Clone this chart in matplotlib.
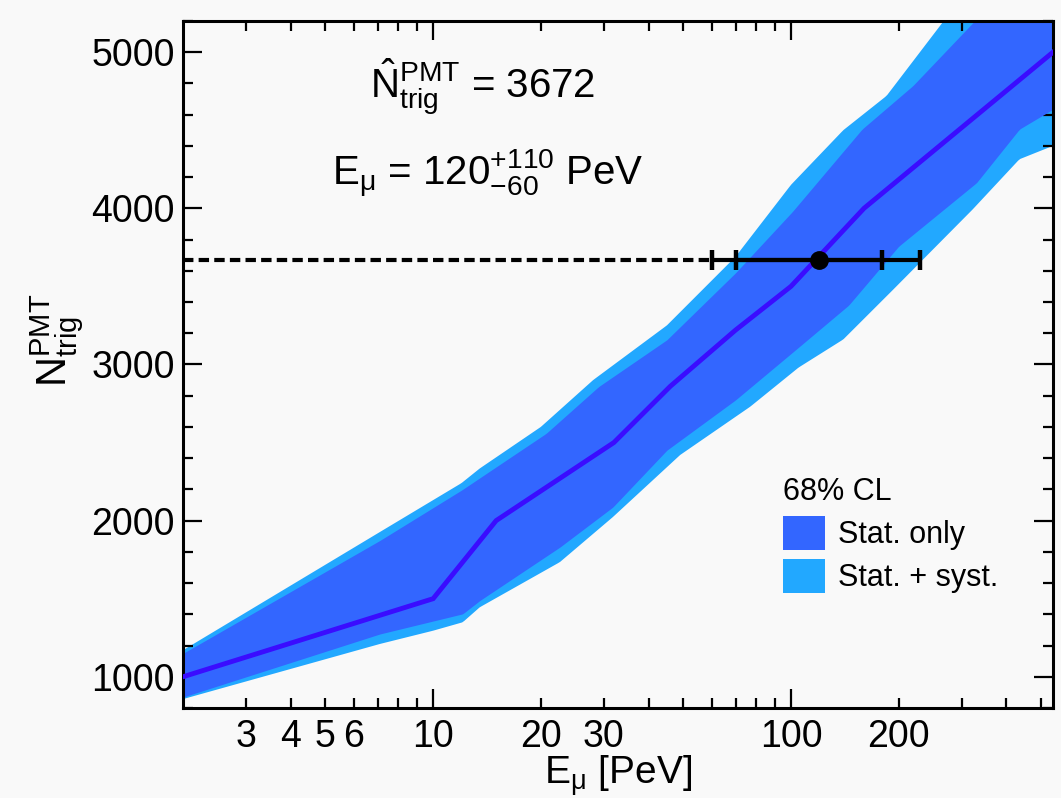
import numpy as np
import matplotlib
matplotlib.use("Agg")
import matplotlib.pyplot as plt
from matplotlib.patches import Patch
from matplotlib.ticker import FixedLocator, FixedFormatter

plt.rcParams['font.family'] = 'Liberation Sans'
plt.rcParams['mathtext.fontset'] = 'custom'
plt.rcParams['mathtext.rm'] = 'Liberation Sans'
plt.rcParams['mathtext.it'] = 'Liberation Sans'
plt.rcParams['mathtext.sf'] = 'Liberation Sans'

# central curve
e_mid = [2, 10, 15, 32, 46, 70, 100, 160, 540]
n_mid = [1000, 1500, 2000, 2500, 2860, 3220, 3500, 4000, 5000]

# stat only band
e_stat_up = [2, 7.1, 12, 20.7, 29, 45, 70, 101, 158, 219, 330, 540]
n_stat_up = [1150, 1873, 2195, 2559, 2858, 3158, 3587, 3980, 4507, 4785, 5213, 5900]
e_stat_lo = [2, 7.1, 12.1, 13.5, 22.6, 31.8, 45, 70, 105, 145, 200, 330, 435, 540]
n_stat_lo = [870, 1274, 1403, 1488, 1830, 2087, 2451, 2773, 3110, 3380, 3757, 4164, 4507, 4635]

# stat + syst band
e_syst_up = [2, 7.1, 12, 13.5, 20, 28, 45, 70, 100, 140, 185, 270, 540]
n_syst_up = [1170, 1927, 2240, 2334, 2600, 2900, 3250, 3690, 4150, 4500, 4720, 5213, 6500]
e_syst_lo = [2, 7.1, 10, 12.1, 13.5, 22.6, 31.8, 49, 77, 105, 140, 193, 322, 435, 540]
n_syst_lo = [857, 1210, 1295, 1349, 1445, 1734, 2023, 2420, 2730, 2980, 3160, 3479, 3993, 4314, 4400]

# measurement
n_meas = 3672
e_meas = 120
e_stat_err = [50, 60]
e_tot_err = [60, 110]

dark = '#3366ff'
light = '#22a8ff'
bg = '#f9f9f9'


def band(e_up, n_up, e_lo, n_lo, n=400):
    grid = np.logspace(np.log10(2), np.log10(540), n)
    up = np.interp(np.log10(grid), np.log10(e_up), n_up)
    lo = np.interp(np.log10(grid), np.log10(e_lo), n_lo)
    return grid, lo, up


fig = plt.figure(figsize=(10.61, 7.98), dpi=100, facecolor=bg)
ax = fig.add_axes([0.1725, 0.1128, 0.82, 0.861])
ax.set_facecolor(bg)

g, lo, up = band(e_syst_up, n_syst_up, e_syst_lo, n_syst_lo)
ax.fill_between(g, lo, up, color=light, lw=0, zorder=1)
g, lo, up = band(e_stat_up, n_stat_up, e_stat_lo, n_stat_lo)
ax.fill_between(g, lo, up, color=dark, lw=0, zorder=2)
ax.plot(e_mid, n_mid, color='#3a0cff', lw=3.5, zorder=3, solid_joinstyle='miter')

ax.plot([2, e_meas - e_tot_err[0]], [n_meas, n_meas], color='black', lw=3,
        linestyle=(0, (2.5, 1.25)), zorder=4)
ax.errorbar([e_meas], [n_meas], xerr=[[e_tot_err[0]], [e_tot_err[1]]], fmt='none',
            ecolor='black', elinewidth=3, capsize=7, capthick=3.2, zorder=5)
ax.errorbar([e_meas], [n_meas], xerr=[[e_stat_err[0]], [e_stat_err[1]]], fmt='o',
            color='black', ms=12.5, elinewidth=3, capsize=7, capthick=3.2, zorder=6)

ax.set_xscale('log')
ax.set_xlim(2, 540)
ax.set_ylim(800, 5200)

ax.xaxis.set_major_locator(FixedLocator([10, 100]))
ax.xaxis.set_major_formatter(FixedFormatter(['10', '100']))
minor = [3, 4, 5, 6, 7, 8, 9, 20, 30, 40, 50, 60, 70, 80, 90, 200, 300, 400, 500]
minor_lab = ['3', '4', '5', '6', '', '', '', '20', '30', '', '', '', '', '', '', '200', '', '', '']
ax.xaxis.set_minor_locator(FixedLocator(minor))
ax.xaxis.set_minor_formatter(FixedFormatter(minor_lab))
ax.set_yticks([1000, 2000, 3000, 4000, 5000])
ax.set_yticks(np.arange(800, 5201, 200), minor=True)

ax.tick_params(which='both', direction='in', top=True, right=True, width=1.6,
               labelsize=27, colors='black')
ax.tick_params(which='major', length=14)
ax.tick_params(which='minor', length=7)
ax.tick_params(axis='x', which='both', pad=8)
ax.tick_params(axis='y', which='both', pad=6)
for s in ax.spines.values():
    s.set_linewidth(2.2)

ax.set_xlabel(r'$\mathregular{E_{\mu}}$ [PeV]', fontsize=28, labelpad=-1)
ax.set_ylabel(r'$\mathregular{N^{PMT}_{trig}}$', fontsize=30)
ax.yaxis.set_label_coords(-0.112, 0.535)

ax.text(0.344, 0.888, r'$\hat{\mathrm{N}}^{\mathrm{PMT}}_{\mathrm{trig}}$ = 3672',
        transform=ax.transAxes, ha='center', va='baseline', fontsize=29)
ax.text(0.35, 0.761, r'$\mathrm{E}_{\mu}$ = $\mathrm{120^{+110}_{-60}}$ PeV',
        transform=ax.transAxes, ha='center', va='baseline', fontsize=29)

handles = [Patch(facecolor=dark, edgecolor='none'), Patch(facecolor=light, edgecolor='none')]
leg = ax.legend(handles, ['Stat. only', 'Stat. + syst.'], title='68% CL',
                loc='upper left', bbox_to_anchor=(0.69, 0.336), frameon=False,
                fontsize=22, title_fontsize=22, alignment='left',
                handlelength=1.35, handleheight=1.3, handletextpad=0.45,
                labelspacing=0.3, borderpad=0, borderaxespad=0)

fig.savefig('out.png', dpi=100, facecolor=bg)
